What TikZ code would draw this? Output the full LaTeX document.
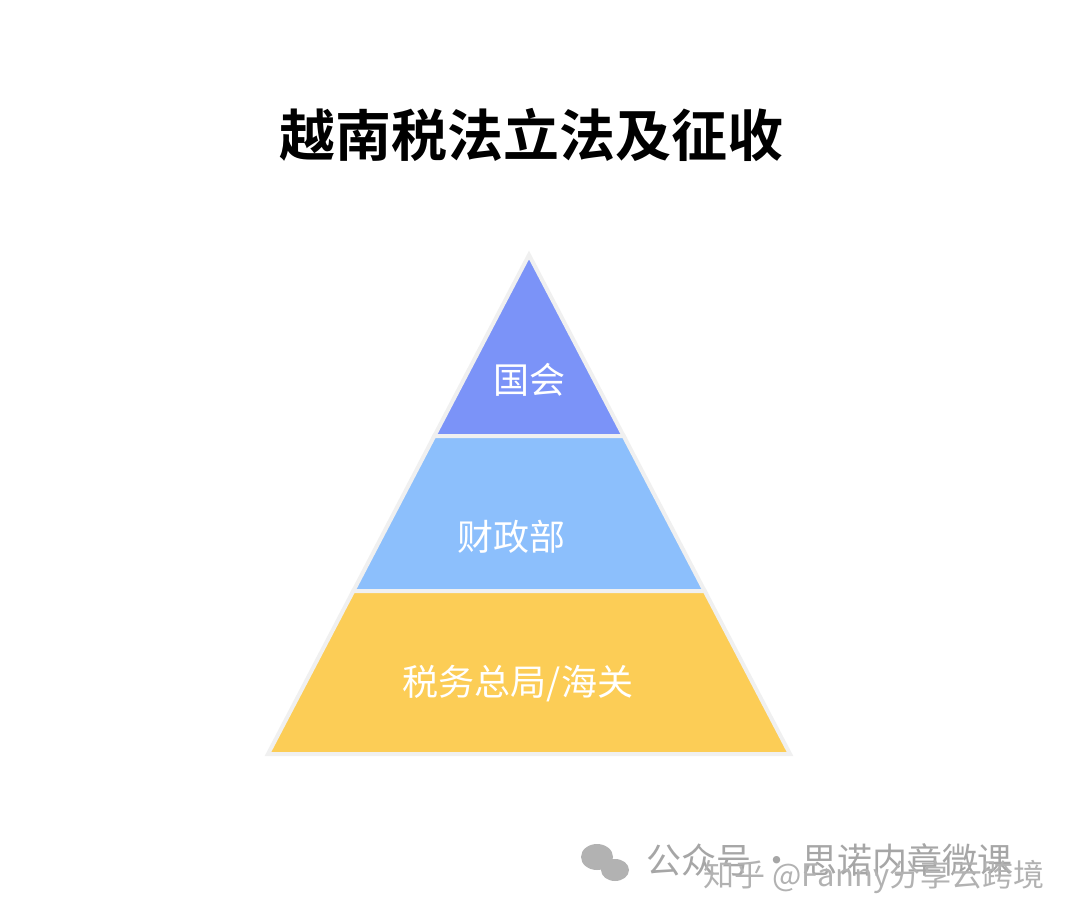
\documentclass[tikz,border=0pt]{standalone}
\usepackage{fontspec}
\newfontfamily\cjk{Noto Sans CJK SC}
\newfontfamily\cjkb{Noto Sans CJK SC Bold}
\begin{document}
\begin{tikzpicture}[x=1pt,y=-1pt,
  band/.style={draw=black!6,line width=4pt,line join=miter},
  lbl/.style={text=white,font=\cjk\fontsize{36}{36}\selectfont},
  wm/.style={text=black!35,font=\cjk\fontsize{35}{35}\selectfont,anchor=west}]
\useasboundingbox[fill=white] (0,0) rectangle (1080,923);
\node[font=\cjkb\fontsize{56}{56}\selectfont] (title) at (531,135) {越南税法立法及征收};
\filldraw[band,fill={rgb,255:red,123;green,147;blue,248}] (529,255)--(434.3,436)--(623.7,436)--cycle;
\filldraw[band,fill={rgb,255:red,140;green,191;blue,252}] (434.3,436)--(353.3,591)--(704.7,591)--(623.7,436)--cycle;
\filldraw[band,fill={rgb,255:red,252;green,205;blue,86}] (353.3,591)--(268,754)--(790,754)--(704.7,591)--cycle;
\node[lbl] (a) at (529,380) {国会};
\node[lbl] (b) at (511,537) {财政部};
\node[lbl] (c) at (518,684) {税务总局/海关};
\fill[black!30] (597,857) ellipse (16 and 13);
\fill[black!30] (615,870) ellipse (14 and 11);
\node[wm] (w1) at (643,860) {公众号 · 思诺内章微课};
\node[wm,text=black!30,font=\cjk\fontsize{31}{31}\selectfont] (w2) at (700,877) {知乎 @Fanny分享云跨境};
\end{tikzpicture}
\end{document}
